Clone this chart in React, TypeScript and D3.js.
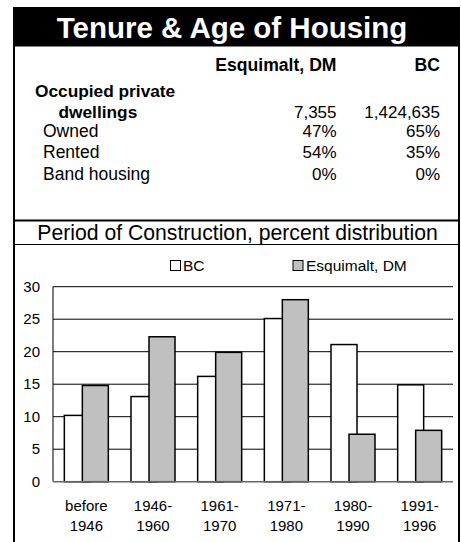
import React from "react";
import * as d3 from "d3";

const title = "Tenure & Age of Housing";
const colHeaders = ["Esquimalt, DM", "BC"];
const dwellingLabel = ["Occupied private", "dwellings"];
const dwellingValues = ["7,355", "1,424,635"];
const tenureLabels = ["Owned", "Rented", "Band housing"];
const esqTenure = ["47%", "54%", "0%"];
const bcTenure = ["65%", "35%", "0%"];

const chartTitle = "Period of Construction, percent distribution";
const categories = ["before 1946", "1946-1960", "1961-1970", "1971-1980", "1980-1990", "1991-1996"];
const catLine1 = ["before", "1946-", "1961-", "1971-", "1980-", "1991-"];
const catLine2 = ["1946", "1960", "1970", "1980", "1990", "1996"];
const seriesNames = ["BC", "Esquimalt, DM"];
const bcValues = [10.2, 13.1, 16.2, 25.1, 21.1, 14.9];
const esqValues = [14.8, 22.3, 19.9, 28.0, 7.3, 7.9];
const yTicks = [0, 5, 10, 15, 20, 25, 30];

const FONT = "'Liberation Sans', Arial, Helvetica, sans-serif";

export default function App() {
  const W = 461;
  const H = 542;
  const plot = { left: 53, right: 453, top: 286.7, bottom: 481.7 };
  const x = d3
    .scaleBand<string>()
    .domain(categories)
    .range([plot.left, plot.right])
    .paddingInner(0.34)
    .paddingOuter(0.17);
  const y = d3.scaleLinear().domain([0, 30]).range([plot.bottom, plot.top]);
  const bw = x.bandwidth();
  const barW = (bw * 26) / 44;
  const off = bw - barW;

  const colX = [336.5, 440];
  const tenureY = [137, 158, 180];

  return (
    <div style={{ position: "absolute", left: 0, top: 0, width: W, height: H, background: "#fff" }}>
      <svg width={W} height={H} style={{ display: "block" }} fontFamily={FONT}>
        <rect x={0} y={0} width={W} height={H} fill="#fff" />
        {/* title band */}
        <rect x={13} y={7} width={447} height={39.5} fill="#000" />
        <text x={232} y={38} textAnchor="middle" fill="#fff" fontWeight="bold" fontSize={29.5}>
          {title}
        </text>
        {/* frame */}
        <line x1={14} y1={46} x2={14} y2={H} stroke="#000" strokeWidth={2} />
        <line x1={459} y1={46} x2={459} y2={H} stroke="#000" strokeWidth={2} />
        <line x1={13} y1={220.5} x2={460} y2={220.5} stroke="#000" strokeWidth={2} />
        <line x1={13} y1={244.5} x2={460} y2={244.5} stroke="#000" strokeWidth={1} />

        {/* table */}
        <g fontSize={17} fill="#000">
          {colHeaders.map((h, i) => (
            <text key={h} x={colX[i]} y={71} textAnchor="end" fontWeight="bold" fontSize={17.6}>
              {h}
            </text>
          ))}
          <text x={35} y={97} fontWeight="bold" fontSize={17.3}>{dwellingLabel[0]}</text>
          <text x={58.5} y={118} fontWeight="bold" fontSize={17.3}>{dwellingLabel[1]}</text>
          {dwellingValues.map((v, i) => (
            <text key={v} x={colX[i]} y={118} textAnchor="end">{v}</text>
          ))}
          {tenureLabels.map((l, r) => (
            <g key={l}>
              <text x={43} y={tenureY[r]} fontSize={17.5}>{l}</text>
              <text x={colX[0]} y={tenureY[r]} textAnchor="end">{esqTenure[r]}</text>
              <text x={colX[1]} y={tenureY[r]} textAnchor="end">{bcTenure[r]}</text>
            </g>
          ))}
        </g>

        {/* chart title */}
        <text x={237.5} y={240} textAnchor="middle" fontSize={21.2} fill="#000">
          {chartTitle}
        </text>

        {/* legend */}
        <rect x={170.5} y={260.5} width={10} height={10} fill="#fff" stroke="#000" strokeWidth={1} />
        <text x={183} y={271} fontSize={15.5}>{seriesNames[0]}</text>
        <rect x={293} y={260.5} width={10} height={10} fill="#c0c0c0" stroke="#000" strokeWidth={1} />
        <text x={306} y={271} fontSize={15.5}>{seriesNames[1]}</text>

        {/* gridlines */}
        {yTicks.slice(1).map((t) => (
          <line key={t} x1={plot.left} x2={plot.right} y1={y(t)} y2={y(t)} stroke="#000" strokeWidth={1} />
        ))}
        {yTicks.map((t) => (
          <text key={"l" + t} x={40} y={y(t) + 5} textAnchor="end" fontSize={15}>
            {t}
          </text>
        ))}

        {/* bars */}
        {categories.map((c, i) => {
          const x0 = x(c) as number;
          return (
            <g key={c}>
              <rect
                x={x0}
                y={y(bcValues[i])}
                width={barW}
                height={y(0) - y(bcValues[i])}
                fill="#fff"
                stroke="#000"
                strokeWidth={1.5}
              />
              <rect
                x={x0 + off}
                y={y(esqValues[i])}
                width={barW}
                height={y(0) - y(esqValues[i])}
                fill="#c0c0c0"
                stroke="#000"
                strokeWidth={1.5}
              />
            </g>
          );
        })}

        {/* axes */}
        <line x1={plot.left} x2={plot.left} y1={plot.top} y2={plot.bottom} stroke="#000" strokeWidth={1} />
        <line x1={plot.left} x2={plot.right} y1={plot.bottom} y2={plot.bottom} stroke="#666" strokeWidth={1.5} />

        {/* x labels */}
        {categories.map((c, i) => {
          const cx = (x(c) as number) + bw / 2;
          return (
            <g key={"x" + c} fontSize={15}>
              <text x={cx} y={511} textAnchor="middle">{catLine1[i]}</text>
              <text x={cx} y={531} textAnchor="middle">{catLine2[i]}</text>
            </g>
          );
        })}
      </svg>
    </div>
  );
}
